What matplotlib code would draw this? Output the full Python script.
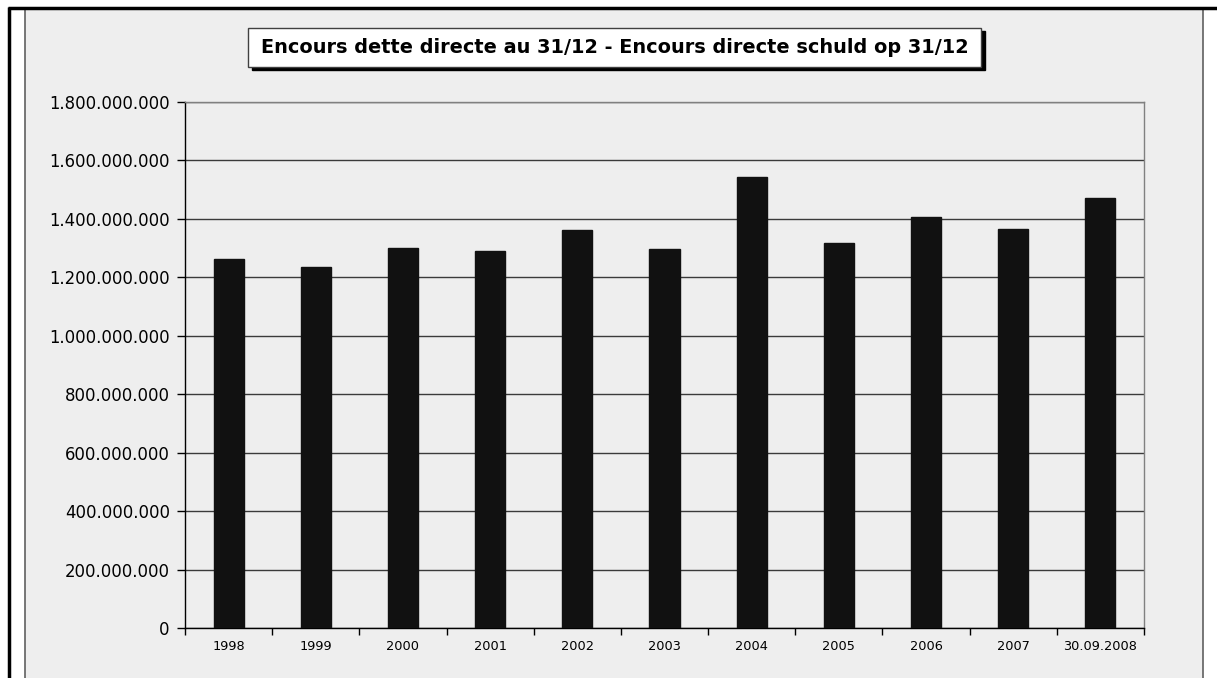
import matplotlib.pyplot as plt
from matplotlib.patches import Rectangle
from matplotlib.lines import Line2D
from matplotlib.ticker import FuncFormatter, FixedLocator

categories = ["1998", "1999", "2000", "2001", "2002", "2003", "2004", "2005", "2006", "2007", "30.09.2008"]
values = [1263000000, 1236000000, 1301000000, 1289000000, 1362000000, 1297000000,
          1544000000, 1316000000, 1405000000, 1367000000, 1470000000]
yticks = [0, 200000000, 400000000, 600000000, 800000000, 1000000000,
          1200000000, 1400000000, 1600000000, 1800000000]
title = "Encours dette directe au 31/12 - Encours directe schuld op 31/12"

W, H = 1217, 678
plt.rcParams['font.family'] = ['DejaVu Sans']

fig = plt.figure(figsize=(W / 100, H / 100), dpi=100)
fig.patch.set_facecolor("white")


def fx(px):
    return px / W


def fy(py):
    return 1 - py / H


# chart area
fig.patches.append(Rectangle((fx(25), fy(H + 5)), fx(1203) - fx(25), fy(9) - fy(H + 5),
                             transform=fig.transFigure, facecolor="#eeeeee",
                             edgecolor="#606060", linewidth=1.2, zorder=-2))
# outer black frame lines
fig.lines.append(Line2D([fx(8), fx(W)], [fy(8), fy(8)], transform=fig.transFigure,
                        color="black", linewidth=2.5, solid_capstyle="butt", zorder=-1))
fig.lines.append(Line2D([fx(9), fx(9)], [fy(7), fy(H)], transform=fig.transFigure,
                        color="black", linewidth=2.5, solid_capstyle="butt", zorder=-1))

ax = fig.add_axes([fx(185), fy(628), fx(1144) - fx(185), fy(102) - fy(628)])
ax.set_facecolor("none")

x = list(range(len(categories)))
ax.bar(x, values, width=0.345, color="#111111", edgecolor="#111111", zorder=3)

ax.set_xlim(-0.5, len(categories) - 0.5)
ax.set_ylim(0, 1800000000)
ax.set_yticks(yticks)
ax.yaxis.set_major_formatter(FuncFormatter(lambda v, p: f"{int(v):,}".replace(",", ".")))
ax.grid(axis="y", color="#3a3a3a", linewidth=1.0, zorder=1)
ax.set_axisbelow(True)

ax.set_xticks(x)
ax.set_xticklabels(categories, fontsize=9.3)
ax.tick_params(axis="x", length=0, pad=9)
ax.xaxis.set_minor_locator(FixedLocator([i - 0.5 for i in range(len(categories) + 1)]))
ax.tick_params(axis="x", which="minor", length=5, width=1, direction="out")
ax.tick_params(axis="y", length=6, width=1, direction="out", labelsize=11.9, pad=5)

ax.spines["left"].set_color("black")
ax.spines["bottom"].set_color("black")
ax.spines["top"].set_color("#808080")
ax.spines["right"].set_color("#808080")
for s in ax.spines.values():
    s.set_linewidth(1.0)

# title box with shadow
bx0, bx1, by0, by1 = 248, 981, 28, 67
fig.patches.append(Rectangle((fx(bx0 + 4), fy(by1 + 3)), fx(bx1) - fx(bx0), fy(by0) - fy(by1),
                             transform=fig.transFigure, facecolor="black",
                             edgecolor="black", zorder=5))
fig.patches.append(Rectangle((fx(bx0), fy(by1)), fx(bx1) - fx(bx0), fy(by0) - fy(by1),
                             transform=fig.transFigure, facecolor="white",
                             edgecolor="#404040", linewidth=1.0, zorder=6))
fig.text(fx((bx0 + bx1) / 2), fy((by0 + by1) / 2), title, ha="center", va="center",
         fontsize=13.9, fontweight="bold", zorder=7)

fig.savefig("out.png", dpi=100)
